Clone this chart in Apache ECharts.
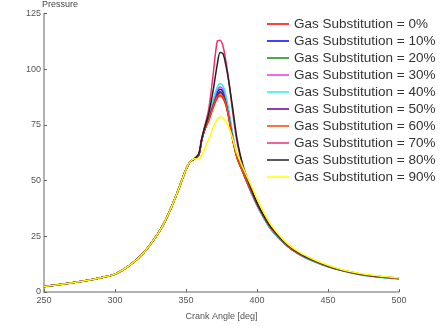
<!DOCTYPE html>
<html>
<head>
<meta charset="utf-8">
<script src="https://cdn.jsdelivr.net/npm/echarts@6/dist/echarts.min.js"></script>
<style>
html, body { margin: 0; padding: 0; background: #fff; }
#main { width: 443px; height: 326px; }
</style>
</head>
<body>
<div id="main"></div>
<script>
// crank angle samples [deg]
var angles = [250, 260, 270, 280, 290, 300, 310, 320, 330, 335, 340, 345, 350, 353, 356,
  359, 361, 363, 366, 369, 372, 374, 376, 378, 380, 383, 386, 390, 395, 400, 405, 410,
  420, 430, 440, 450, 460, 470, 480, 490, 500];

// compression stroke, same for all cases (250..356)
var compression = [2.5, 3.3, 4.2, 5.2, 6.4, 8.0, 11.8, 17.5, 26, 31.5, 38.5, 46.5, 55, 58.5, 59.8];

// combustion + expansion (359..500) per gas substitution
var gs0  = [61.5, 68, 72.5, 77, 82.5, 87, 88, 87, 84, 78.5, 68, 60, 54, 46.5, 39.5, 33.5, 28.5, 21.5, 17, 14, 11.5, 9.7, 8.3, 7.3, 6.6, 6.1];
var gs10 = [61.5, 68, 73, 78.5, 84.5, 89.5, 91, 90, 86.5, 80.5, 69.5, 61, 54, 46, 39, 33, 28, 21.3, 16.8, 13.8, 11.4, 9.6, 8.2, 7.2, 6.5, 6.0];
var gs20 = [61.5, 68, 72.5, 78, 84, 88.5, 90, 89, 85.5, 79.5, 69, 60.5, 54, 46.3, 39.3, 33.3, 28.3, 21.4, 16.9, 13.9, 11.5, 9.7, 8.3, 7.3, 6.6, 6.1];
var gs30 = [61.5, 68, 73, 79, 85, 90.5, 92, 91, 87.5, 81, 70, 61, 54, 46, 39, 33, 28, 21.3, 16.8, 13.8, 11.4, 9.6, 8.2, 7.2, 6.5, 6.0];
var gs40 = [61.5, 68, 73.5, 79.5, 86, 92, 93.5, 92.5, 88.5, 82, 70.5, 61.5, 54, 46, 38.8, 32.8, 27.8, 21.2, 16.7, 13.7, 11.3, 9.5, 8.1, 7.1, 6.4, 5.9];
var gs50 = [61.5, 68, 72.5, 77.5, 83.5, 88, 89.5, 88.5, 85, 79, 68.5, 60.5, 54, 46.5, 39.5, 33.5, 28.5, 21.5, 17, 14, 11.5, 9.7, 8.3, 7.3, 6.6, 6.1];
var gs60 = [61.5, 68, 72.5, 77, 83, 87.5, 88.5, 87.5, 84.5, 78.5, 68, 60, 54, 46.5, 39.5, 33.5, 28.5, 21.5, 17, 14, 11.5, 9.7, 8.3, 7.3, 6.6, 6.1];
var gs70 = [62, 69, 74, 82, 97, 112.5, 113, 110.5, 104, 95.5, 80, 67, 56.5, 47.5, 40, 34, 29, 22, 17.3, 14.2, 11.7, 9.8, 8.4, 7.4, 6.7, 6.2];
var gs80 = [62, 68.5, 73.5, 80, 90, 102, 107.5, 107, 102, 95, 82, 68.5, 57, 48, 40, 34, 29, 22, 17.3, 14.2, 11.7, 9.8, 8.4, 7.4, 6.7, 6.2];
var gs90 = [59.5, 61.5, 64, 68.5, 73.5, 77.5, 78.5, 78, 76.5, 74, 68.5, 62, 56, 49, 42, 35.5, 30, 22.5, 17.8, 14.6, 12, 10, 8.6, 7.6, 6.9, 6.3];

var names = ['Gas Substitution = 0%', 'Gas Substitution = 10%', 'Gas Substitution = 20%',
  'Gas Substitution = 30%', 'Gas Substitution = 40%', 'Gas Substitution = 50%',
  'Gas Substitution = 60%', 'Gas Substitution = 70%', 'Gas Substitution = 80%',
  'Gas Substitution = 90%'];
var curves = [gs0, gs10, gs20, gs30, gs40, gs50, gs60, gs70, gs80, gs90];
var colors = ['#ff0000', '#0000ff', '#109010', '#e838e8', '#20f0f0', '#660099',
  '#ff4400', '#f0306f', '#222222', '#ffff00'];

var font = 'Liberation Sans, Arial, sans-serif';

var series = curves.map(function (c, k) {
  var ys = compression.concat(c);
  return {
    name: names[k],
    type: 'line',
    data: angles.map(function (a, i) { return [a, ys[i]]; }),
    showSymbol: false,
    symbol: 'none',
    smooth: 0.3,
    lineStyle: { width: 1.5, color: colors[k] },
    itemStyle: { color: colors[k] }
  };
});

var myChart = echarts.init(document.getElementById('main'));
var option = {
  animation: false,
  backgroundColor: '#fff',
  grid: { left: 44, right: 44, top: 12, bottom: 33 },
  legend: {
    orient: 'vertical',
    left: 267,
    top: 16,
    padding: 0,
    icon: 'rect',
    itemWidth: 22,
    itemHeight: 1.5,
    itemGap: 1,
    textStyle: { fontFamily: font, fontSize: 13.5, lineHeight: 16, color: '#333' },
    data: names
  },
  xAxis: {
    type: 'value',
    min: 250,
    max: 500,
    interval: 50,
    name: 'Crank Angle [deg]',
    nameLocation: 'middle',
    nameGap: 20,
    nameTextStyle: { fontFamily: font, fontSize: 9, color: '#555' },
    axisLine: { lineStyle: { color: '#999', width: 1.5 } },
    axisTick: { inside: true, length: 3, lineStyle: { color: '#666' } },
    axisLabel: { fontFamily: font, fontSize: 9, color: '#555', margin: 4 },
    splitLine: { show: false }
  },
  yAxis: {
    type: 'value',
    min: 0,
    max: 125,
    interval: 25,
    name: 'Pressure',
    nameLocation: 'end',
    nameGap: 2,
    nameTextStyle: { fontFamily: font, fontSize: 9, color: '#444', align: 'left', padding: [0, 0, 0, -2] },
    axisLine: { show: true, lineStyle: { color: '#999', width: 1.5 } },
    axisTick: { show: true, inside: true, length: 3, lineStyle: { color: '#666' } },
    axisLabel: { fontFamily: font, fontSize: 9, color: '#555', margin: 3 },
    splitLine: { show: false }
  },
  series: series
};
myChart.setOption(option);
</script>
</body>
</html>
